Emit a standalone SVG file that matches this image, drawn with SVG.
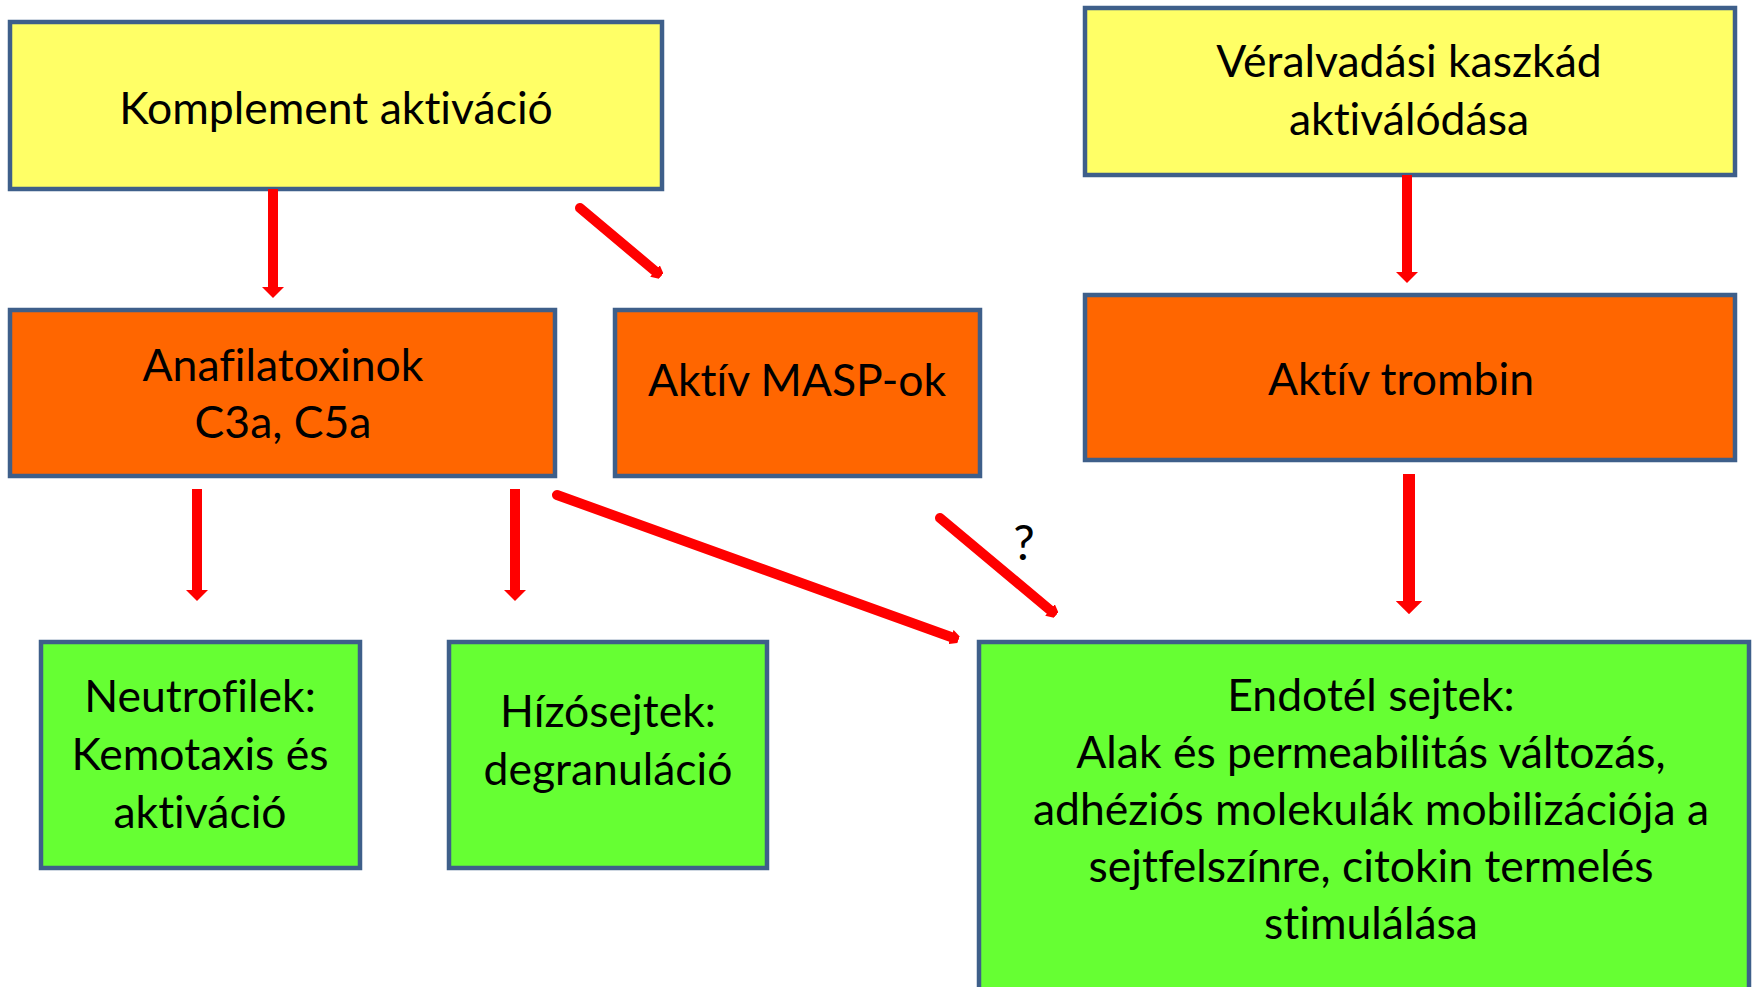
<svg xmlns="http://www.w3.org/2000/svg" width="1756" height="987" viewBox="0 0 1756 987">
<defs>
<style>
.box{stroke:#3E5F8A;stroke-width:4.5}
.y{fill:#FFFF66}
.o{fill:#FF6600}
.g{fill:#66FF33}
text{font-family:Lato,"Open Sans","Liberation Sans",sans-serif;font-size:44.5px;fill:#000;text-anchor:middle;font-variant-ligatures:none}
.c line{stroke:#FF0000;stroke-width:10}
.d{stroke-linecap:round;stroke-width:11px}
</style>
<marker id="ah" viewBox="0 0 1.1 2.2" refX="0" refY="1.1" markerWidth="1.1" markerHeight="2.2" orient="auto" markerUnits="strokeWidth">
<path d="M0,0 L1.1,1.1 L0,2.2 z" fill="#FF0000"/>
</marker>
<marker id="sh" viewBox="0 0 0.8 1.5" refX="0" refY="0.75" markerWidth="0.8" markerHeight="1.5" orient="auto" markerUnits="strokeWidth">
<path d="M0,0 L0.8,0.4 L0.8,1.1 L0,1.5 z" fill="#FF0000"/>
</marker>
</defs>
<rect width="1756" height="987" fill="#FFFFFF"/>
<g id="komplement">
<rect class="box y" x="10" y="22" width="652" height="167"/>
<text x="336" y="124">Komplement aktiváció</text>
</g>
<g id="veralvadas">
<rect class="box y" x="1085" y="8" width="650" height="167"/>
<text x="1409" y="77">Véralvadási kaszkád</text>
<text x="1409" y="135">aktiválódása</text>
</g>
<g id="anafilatoxinok">
<rect class="box o" x="10" y="310" width="545" height="166"/>
<text x="283" y="381">Anafilatoxinok</text>
<text x="283" y="438">C3a, C5a</text>
</g>
<g id="masp">
<rect class="box o" x="615" y="310" width="365" height="166"/>
<text x="797" y="396">Aktív MASP-ok</text>
</g>
<g id="trombin">
<rect class="box o" x="1085" y="295" width="650" height="165"/>
<text x="1401" y="395">Aktív trombin</text>
</g>
<g id="neutrofilek">
<rect class="box g" x="41" y="642" width="319" height="226"/>
<text x="200" y="712">Neutrofilek:</text>
<text x="200" y="770">Kemotaxis és</text>
<text x="200" y="828">aktiváció</text>
</g>
<g id="hizosejtek">
<rect class="box g" x="449" y="642" width="318" height="226"/>
<text x="608" y="727">Hízósejtek:</text>
<text x="608" y="785">degranuláció</text>
</g>
<g id="endotel">
<rect class="box g" x="979" y="642" width="770" height="360"/>
<text x="1371" y="711">Endotél sejtek:</text>
<text x="1371" y="768">Alak és permeabilitás változás,</text>
<text x="1371" y="825">adhéziós molekulák mobilizációja a</text>
<text x="1371" y="882">sejtfelszínre, citokin termelés</text>
<text x="1371" y="939">stimulálása</text>
</g>
<g id="connectors" class="c">
<line x1="273" y1="189" x2="273" y2="287" marker-end="url(#ah)"/>
<line x1="197" y1="489" x2="197" y2="590" marker-end="url(#ah)"/>
<line x1="515" y1="489" x2="515" y2="590" marker-end="url(#ah)"/>
<line x1="1407" y1="175" x2="1407" y2="272" marker-end="url(#ah)"/>
<line x1="1409" y1="474" x2="1409" y2="601" style="stroke-width:12" marker-end="url(#ah)"/>
<line class="d" x1="580" y1="208" x2="655" y2="271" marker-end="url(#sh)"/>
<line class="d" x1="940" y1="518" x2="1050" y2="610" marker-end="url(#sh)"/>
<line class="d" x1="557" y1="495" x2="951" y2="637" marker-end="url(#sh)"/>
</g>
<text x="1024" y="560" style="font-size:48px">?</text>
</svg>
